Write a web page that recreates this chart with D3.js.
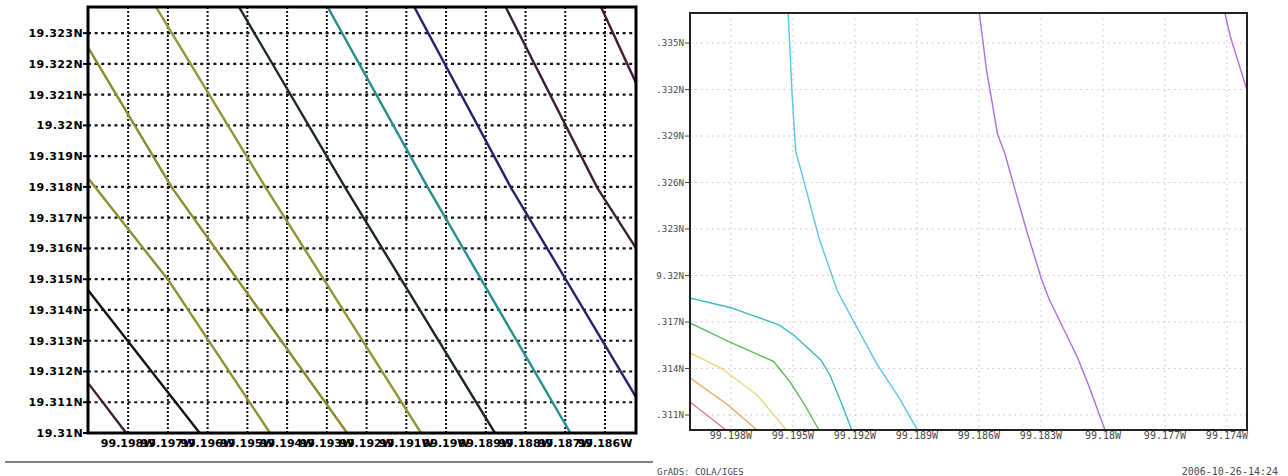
<!DOCTYPE html>
<html>
<head>
<meta charset="utf-8">
<script src="https://cdnjs.cloudflare.com/ajax/libs/d3/7.8.5/d3.min.js"></script>
<style>
  body { margin: 0; background: #fff; }
  svg { display: block; }
</style>
</head>
<body>
<div id="wrapper"></div>
<script>
// ---- left panel (zoomed grid) ----
const leftLatTicks = [19.323, 19.322, 19.321, 19.32, 19.319, 19.318, 19.317, 19.316, 19.315, 19.314, 19.313, 19.312, 19.311, 19.31]
const leftLatLabels = ["19.323N", "19.322N", "19.321N", "19.32N", "19.319N", "19.318N", "19.317N", "19.316N", "19.315N", "19.314N", "19.313N", "19.312N", "19.311N", "19.31N"]
const leftLonTicks = [99.198, 99.197, 99.196, 99.195, 99.194, 99.193, 99.192, 99.191, 99.19, 99.189, 99.188, 99.187, 99.186]
const leftLonLabels = ["99.198W", "99.197W", "99.196W", "99.195W", "99.194W", "99.193W", "99.192W", "99.191W", "99.19W", "99.189W", "99.188W", "99.187W", "99.186W"]
const leftLonExtent = [99.19901, 99.18522]
const leftLatExtent = [19.31, 19.32385]

// contour lines, [lon W, lat N]
const leftContours = [
  [[99.19901, 19.31163], [99.19805, 19.31]],
  [[99.19901, 19.31465], [99.1962, 19.31]],
  [[99.19901, 19.31829], [99.19697, 19.31494], [99.19443, 19.31]],
  [[99.19901, 19.32254], [99.19689, 19.31796], [99.19249, 19.31]],
  [[99.1973, 19.32385], [99.19453, 19.31796], [99.19063, 19.31]],
  [[99.19521, 19.32385], [99.19253, 19.31796], [99.18877, 19.31]],
  [[99.19298, 19.32385], [99.19045, 19.31796], [99.18687, 19.31]],
  [[99.1908, 19.32385], [99.18836, 19.31796], [99.18522, 19.31117]],
  [[99.1885, 19.32385], [99.18619, 19.31796], [99.18522, 19.31601]],
  [[99.1861, 19.32385], [99.18522, 19.32138]],
]

// ---- right panel (GrADS plot) ----
const rightLatTicks = [19.335, 19.332, 19.329, 19.326, 19.323, 19.32, 19.317, 19.314, 19.311]
const rightLatLabels = ["19.335N", "19.332N", "19.329N", "19.326N", "19.323N", "19.32N", "19.317N", "19.314N", "19.311N"]
const rightLonTicks = [99.198, 99.195, 99.192, 99.189, 99.186, 99.183, 99.18, 99.177, 99.174]
const rightLonLabels = ["99.198W", "99.195W", "99.192W", "99.189W", "99.186W", "99.183W", "99.18W", "99.177W", "99.174W"]
const rightLonExtent = [99.19998, 99.17303]
const rightLatExtent = [19.31003, 19.33694]

const rightContours = [
  [[99.19523, 19.33694], [99.19505, 19.33193], [99.19487, 19.32805], [99.19443, 19.3259], [99.19374, 19.32242],
   [99.19285, 19.319], [99.19197, 19.31681], [99.19091, 19.31423], [99.18986, 19.3121], [99.18898, 19.31003]],
  [[99.19998, 19.31855], [99.19795, 19.3179], [99.19568, 19.31681], [99.19497, 19.31616], [99.19365, 19.31455],
   [99.19321, 19.31358], [99.19268, 19.31186], [99.19215, 19.31003]],
  [[99.19998, 19.31694], [99.19815, 19.31577], [99.19593, 19.31445], [99.19515, 19.31315], [99.19443, 19.31165], [99.19374, 19.31003]],
  [[99.19998, 19.315], [99.19848, 19.31403], [99.19674, 19.31229], [99.19531, 19.31003]],
  [[99.19998, 19.31339], [99.19815, 19.31165], [99.19674, 19.31003]],
  [[99.19998, 19.31184], [99.19824, 19.31003]],
  [[99.18598, 19.33694], [99.18563, 19.33323], [99.1851, 19.32913], [99.18474, 19.32784], [99.18369, 19.32287],
   [99.18299, 19.31984], [99.18263, 19.31855], [99.18122, 19.31468], [99.1807, 19.31294], [99.1799, 19.31003]],
  [[99.1741, 19.33694], [99.17383, 19.33539], [99.17303, 19.33197]],
]

const footerLeft = "GrADS: COLA/IGES"
const footerRight = "2006-10-26-14:24"

function drawChart() {

  // 1. dimensions
  const width = 1288
  const height = 476
  const leftBox = { x0: 88, x1: 636, y0: 7, y1: 433 }
  const rightBox = { x0: 690, x1: 1247, y0: 13, y1: 430 }
  const cutX = 656   // right picture is cut off here

  const leftColors = ["#3e1f38", "#141414", "#8e8e32", "#8a8a2e", "#93933a", "#1b2a20", "#268e8c", "#22226e", "#3a1e36", "#421a3a"]
  const rightColors = ["#5cc4ec", "#3cb8c6", "#58be58", "#ead77c", "#f0ae6e", "#e27a7c", "#b06ee0", "#b06ee0"]

  // 2. canvas
  const svg = d3.select("#wrapper")
    .append("svg")
      .attr("width", width)
      .attr("height", height)

  const defs = svg.append("defs")
  defs.append("clipPath").attr("id", "clipLeft")
    .append("rect")
      .attr("x", leftBox.x0).attr("y", leftBox.y0)
      .attr("width", leftBox.x1 - leftBox.x0).attr("height", leftBox.y1 - leftBox.y0)
  defs.append("clipPath").attr("id", "clipRight")
    .append("rect")
      .attr("x", rightBox.x0).attr("y", rightBox.y0)
      .attr("width", rightBox.x1 - rightBox.x0).attr("height", rightBox.y1 - rightBox.y0)
  defs.append("clipPath").attr("id", "clipRightPanel")
    .append("rect")
      .attr("x", cutX).attr("y", 0)
      .attr("width", width - cutX).attr("height", height)

  // 3. left panel
  const xL = d3.scaleLinear().domain(leftLonExtent).range([leftBox.x0, leftBox.x1])
  const yL = d3.scaleLinear().domain(leftLatExtent).range([leftBox.y1, leftBox.y0])

  const left = svg.append("g")

  // dotted grid
  left.append("g")
    .selectAll("line")
    .data(leftLatTicks.filter(d => d > leftLatExtent[0]))
    .join("line")
      .attr("x1", leftBox.x0).attr("x2", leftBox.x1)
      .attr("y1", d => yL(d)).attr("y2", d => yL(d))
      .attr("stroke", "#111")
      .attr("stroke-width", 2.2)
      .attr("stroke-dasharray", "3,3.6")

  left.append("g")
    .selectAll("line")
    .data(leftLonTicks)
    .join("line")
      .attr("x1", d => xL(d)).attr("x2", d => xL(d))
      .attr("y1", leftBox.y0).attr("y2", leftBox.y1)
      .attr("stroke", "#111")
      .attr("stroke-width", 2)
      .attr("stroke-dasharray", "2,2")

  const lineL = d3.line()
    .x(d => xL(d[0]))
    .y(d => yL(d[1]))

  left.append("g")
    .attr("clip-path", "url(#clipLeft)")
    .selectAll("path")
    .data(leftContours)
    .join("path")
      .attr("d", lineL)
      .attr("fill", "none")
      .attr("stroke", (d, i) => leftColors[i])
      .attr("stroke-width", 2.4)
      .attr("stroke-linejoin", "round")

  left.append("rect")
    .attr("x", leftBox.x0).attr("y", leftBox.y0)
    .attr("width", leftBox.x1 - leftBox.x0).attr("height", leftBox.y1 - leftBox.y0)
    .attr("fill", "none")
    .attr("stroke", "#000")
    .attr("stroke-width", 3)

  // y ticks + labels
  left.append("g")
    .selectAll("line")
    .data(leftLatTicks)
    .join("line")
      .attr("x1", leftBox.x0 - 5).attr("x2", leftBox.x0)
      .attr("y1", d => yL(d)).attr("y2", d => yL(d))
      .attr("stroke", "#000")
      .attr("stroke-width", 2)

  left.append("g")
    .selectAll("text")
    .data(leftLatTicks)
    .join("text")
      .attr("x", leftBox.x0 - 5)
      .attr("y", d => yL(d))
      .attr("dy", "0.35em")
      .attr("text-anchor", "end")
      .attr("font-family", "DejaVu Sans")
      .attr("font-weight", "bold")
      .attr("font-size", 11)
      .attr("letter-spacing", 0.4)
      .attr("fill", "#000")
      .text((d, i) => leftLatLabels[i])

  // x labels are wider than the tick spacing, they run into each other
  left.append("g")
    .selectAll("text")
    .data(leftLonTicks)
    .join("text")
      .attr("x", d => xL(d))
      .attr("y", 447)
      .attr("text-anchor", "middle")
      .attr("font-family", "DejaVu Sans")
      .attr("font-weight", "bold")
      .attr("font-size", 11)
      .attr("fill", "#000")
      .text((d, i) => leftLonLabels[i])

  svg.append("line")
    .attr("x1", 5).attr("x2", 653)
    .attr("y1", 462).attr("y2", 462)
    .attr("stroke", "#555")
    .attr("stroke-width", 1.5)

  // 4. right panel
  const xR = d3.scaleLinear().domain(rightLonExtent).range([rightBox.x0, rightBox.x1])
  const yR = d3.scaleLinear().domain(rightLatExtent).range([rightBox.y1, rightBox.y0])

  const right = svg.append("g")
    .attr("clip-path", "url(#clipRightPanel)")

  right.append("g")
    .selectAll("line")
    .data(rightLatTicks)
    .join("line")
      .attr("x1", rightBox.x0).attr("x2", rightBox.x1)
      .attr("y1", d => yR(d)).attr("y2", d => yR(d))
      .attr("stroke", "#c4c4c4")
      .attr("stroke-width", 1)
      .attr("stroke-dasharray", "1.5,4")

  right.append("g")
    .selectAll("line")
    .data(rightLonTicks)
    .join("line")
      .attr("x1", d => xR(d)).attr("x2", d => xR(d))
      .attr("y1", rightBox.y0).attr("y2", rightBox.y1)
      .attr("stroke", "#c4c4c4")
      .attr("stroke-width", 1)
      .attr("stroke-dasharray", "1.5,4")

  const lineR = d3.line()
    .x(d => xR(d[0]))
    .y(d => yR(d[1]))

  right.append("g")
    .attr("clip-path", "url(#clipRight)")
    .selectAll("path")
    .data(rightContours)
    .join("path")
      .attr("d", lineR)
      .attr("fill", "none")
      .attr("stroke", (d, i) => rightColors[i])
      .attr("stroke-width", 1.4)
      .attr("stroke-linejoin", "round")

  right.append("rect")
    .attr("x", rightBox.x0).attr("y", rightBox.y0)
    .attr("width", rightBox.x1 - rightBox.x0).attr("height", rightBox.y1 - rightBox.y0)
    .attr("fill", "none")
    .attr("stroke", "#222")
    .attr("stroke-width", 2)

  right.append("g")
    .selectAll("line")
    .data(rightLatTicks)
    .join("line")
      .attr("x1", rightBox.x0 - 5).attr("x2", rightBox.x0)
      .attr("y1", d => yR(d)).attr("y2", d => yR(d))
      .attr("stroke", "#444")
      .attr("stroke-width", 1)

  right.append("g")
    .selectAll("text")
    .data(rightLatTicks)
    .join("text")
      .attr("x", rightBox.x0 - 6)
      .attr("y", d => yR(d))
      .attr("dy", "0.35em")
      .attr("text-anchor", "end")
      .attr("font-family", "DejaVu Sans Mono")
      .attr("font-size", 9.2)
      .attr("fill", "#4a4a4a")
      .text((d, i) => rightLatLabels[i])

  right.append("g")
    .selectAll("text")
    .data(rightLonTicks)
    .join("text")
      .attr("x", d => xR(d))
      .attr("y", 439)
      .attr("text-anchor", "middle")
      .attr("font-family", "DejaVu Sans Mono")
      .attr("font-size", 10)
      .attr("fill", "#4a4a4a")
      .text((d, i) => rightLonLabels[i])

  // 5. footer
  right.append("text")
    .attr("x", cutX + 1).attr("y", 475)
    .attr("font-family", "DejaVu Sans Mono")
    .attr("font-size", 9)
    .attr("fill", "#4a4a4a")
    .text(footerLeft)

  right.append("text")
    .attr("x", 1278).attr("y", 475)
    .attr("text-anchor", "end")
    .attr("font-family", "DejaVu Sans Mono")
    .attr("font-size", 10)
    .attr("fill", "#4a4a4a")
    .text(footerRight)
}

drawChart()
</script>
</body>
</html>
